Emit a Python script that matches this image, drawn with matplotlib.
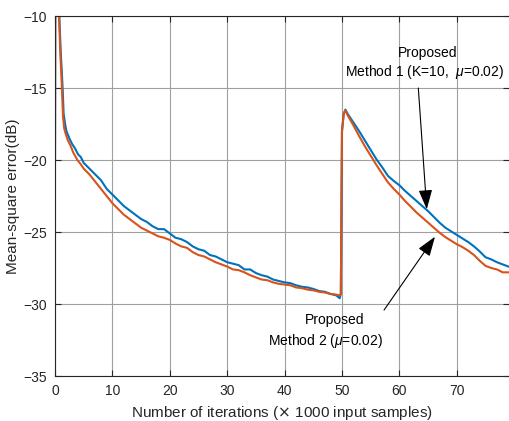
import numpy as np
import matplotlib
matplotlib.use("Agg")
import matplotlib.pyplot as plt

plt.rcParams['font.family'] = ['Liberation Sans', 'DejaVu Sans']
plt.rcParams['mathtext.fontset'] = 'custom'
plt.rcParams['mathtext.it'] = 'Liberation Sans:italic'

# Method 1 (K=10, mu=0.02) - blue curve
m1_x = [0, 0.05, 0.75, 1.0, 1.2, 1.35, 1.5, 1.8, 2.0, 2.5, 3.0, 3.5, 4.0, 4.5,
        5, 6, 7, 8, 9, 10, 11, 12, 13, 14, 15, 16, 17, 18, 19, 20, 21, 22, 23,
        24, 25, 26, 27, 28, 29, 30, 31, 32, 33, 34, 35, 36, 37, 38, 39, 40, 41,
        42, 43, 44, 45, 46, 47, 48, 49, 49.6, 49.8, 50.0, 50.3, 50.6, 51, 52,
        53, 54, 55, 56, 57, 58, 59, 60, 61, 62, 63, 64, 65, 66, 67, 68, 69, 70,
        71, 72, 73, 74, 75, 76, 77, 78, 79]
m1_y = [-20, -8, -10, -12.5, -14.0, -15.2, -16.8, -17.6, -18.0, -18.5, -18.9,
        -19.2, -19.6, -19.8, -20.2, -20.6, -21.0, -21.4, -22.0, -22.4, -22.8,
        -23.2, -23.5, -23.8, -24.1, -24.3, -24.6, -24.8, -24.8, -25.1, -25.4,
        -25.5, -25.7, -26.0, -26.2, -26.3, -26.6, -26.7, -26.9, -27.1, -27.2,
        -27.3, -27.6, -27.6, -27.85, -28.0, -28.1, -28.3, -28.4, -28.5, -28.55,
        -28.7, -28.8, -28.85, -28.95, -29.1, -29.15, -29.3, -29.4, -29.6,
        -29.3, -18.0, -16.8, -16.5, -16.8, -17.4, -18.0, -18.65, -19.3, -19.95,
        -20.5, -21.1, -21.45, -21.75, -22.15, -22.5, -22.85, -23.2, -23.55,
        -23.95, -24.35, -24.7, -24.95, -25.2, -25.45, -25.7, -26.0, -26.35,
        -26.75, -26.9, -27.1, -27.25, -27.4]

# Method 2 (mu=0.02) - orange curve
m2_x = [0, 0.05, 0.7, 0.95, 1.15, 1.25, 1.4, 1.6, 1.8, 2.2, 2.7, 3.2, 3.9, 4.5,
        5, 6, 7, 8, 9, 10, 11, 12, 13, 14, 15, 16, 17, 18, 19, 20, 21, 22, 23,
        24, 25, 26, 27, 28, 29, 30, 31, 32, 33, 34, 35, 36, 37, 38, 39, 40, 41,
        42, 43, 44, 45, 46, 47, 48, 49, 49.6, 49.8, 50.0, 50.3, 50.6, 51, 52,
        53, 54, 55, 56, 57, 58, 59, 60, 61, 62, 63, 64, 65, 66, 67, 68, 69, 70,
        71, 72, 73, 74, 75, 76, 77, 78, 79]
m2_y = [-20, -8, -10, -12.8, -14.5, -15.5, -17.0, -17.8, -18.1, -18.6, -19.0,
        -19.5, -20.0, -20.3, -20.6, -21.0, -21.5, -22.0, -22.5, -23.0, -23.4,
        -23.8, -24.1, -24.4, -24.7, -24.9, -25.1, -25.3, -25.4, -25.55, -25.8,
        -26.0, -26.1, -26.4, -26.6, -26.7, -26.9, -27.1, -27.25, -27.4, -27.6,
        -27.65, -27.8, -28.0, -28.15, -28.3, -28.35, -28.5, -28.6, -28.65,
        -28.7, -28.85, -28.9, -29.0, -29.05, -29.15, -29.2, -29.3, -29.35,
        -29.4, -29.3, -18.0, -16.8, -16.55, -16.9, -17.6, -18.35, -19.05,
        -19.7, -20.35, -20.95, -21.55, -22.0, -22.4, -22.85, -23.25, -23.65,
        -24.0, -24.35, -24.7, -25.05, -25.35, -25.6, -25.85, -26.05, -26.3,
        -26.6, -27.0, -27.35, -27.5, -27.6, -27.8, -27.8]

x_ticks = [0, 10, 20, 30, 40, 50, 60, 70]
y_ticks = [-35, -30, -25, -20, -15, -10]

fig = plt.figure(figsize=(5.09, 4.21), dpi=100)
ax = fig.add_axes([55 / 509, 45 / 421, 454 / 509, 360 / 421])

ax.plot(m1_x, m1_y, color='#0072BD', lw=1.5)
ax.plot(m2_x, m2_y, color='#D95319', lw=1.5)

ax.set_xlim(0, 79.1)
ax.set_ylim(-35, -10)
ax.set_xticks(x_ticks)
ax.set_yticks(y_ticks)
ax.grid(True, color='#a0a0a0', lw=0.8)
ax.tick_params(direction='in', top=True, right=True, length=4, width=0.8,
               labelsize=10, colors='#262626', pad=6)
ax.spines['right'].set_visible(False)
for s in ['top', 'left', 'bottom']:
    ax.spines[s].set_color('#262626')
    ax.spines[s].set_linewidth(0.8)

ax.set_xlabel('Number of iterations ($\\times$ 1000 input samples)', fontsize=11,
              color='#262626', labelpad=4)
ax.set_ylabel('Mean-square error(dB)', fontsize=11, color='#262626', labelpad=2)

# annotations
ax.text(65.0, -12.83, 'Proposed', ha='center', va='baseline', fontsize=10)
ax.text(64.35, -14.17, 'Method 1 (K=10,  $\\mu$=0.02)', ha='center',
        va='baseline', fontsize=10)
ax.text(48.7, -31.41, 'Proposed', ha='center', va='baseline', fontsize=10)
ax.text(47.05, -32.85, 'Method 2 ($\\mu$=0.02)', ha='center', va='baseline',
        fontsize=10)

arrow = dict(arrowstyle='-|>,head_length=1.0,head_width=0.35', color='black',
             lw=0.8, mutation_scale=12, shrinkA=0, shrinkB=0)
ax.annotate('', xy=(64.77, -23.42), xytext=(63.3, -15.0), arrowprops=arrow)
ax.annotate('', xy=(66.2, -25.33), xytext=(57.33, -30.42), arrowprops=arrow)

fig.savefig('out.png', dpi=100)
